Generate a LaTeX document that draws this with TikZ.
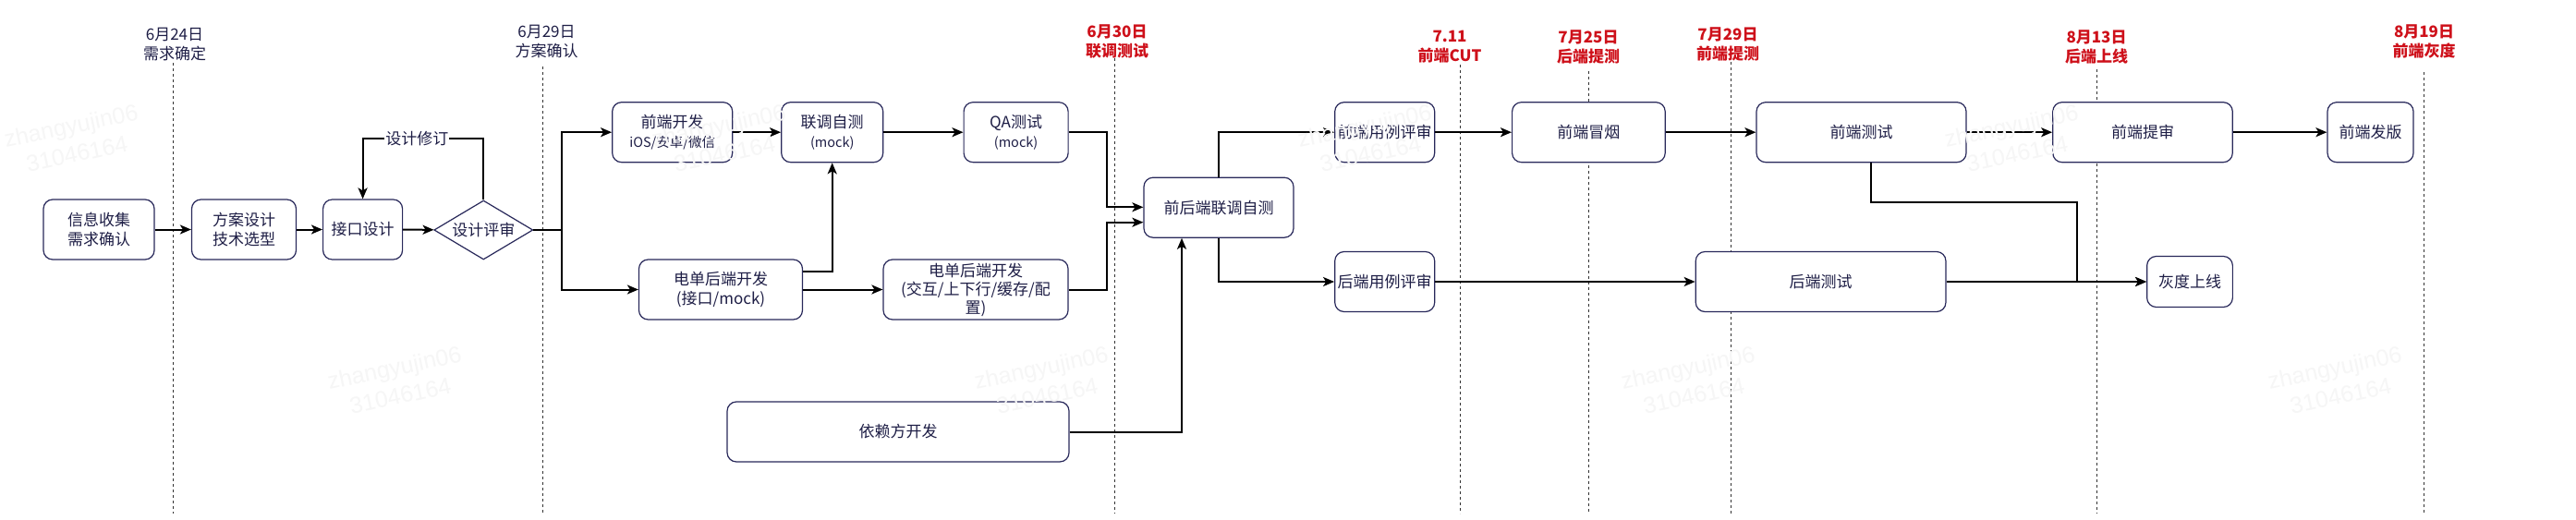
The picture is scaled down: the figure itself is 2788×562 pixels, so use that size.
\documentclass[tikz,border=0pt]{standalone}
\usepackage{fontspec}
\setmainfont{Noto Sans CJK SC}
\newfontfamily\wmfont{Liberation Sans}
\usetikzlibrary{arrows.meta,shapes.geometric,calc}
\definecolor{navy}{RGB}{30,30,70}
\definecolor{boxline}{RGB}{40,40,90}
\definecolor{datered}{RGB}{206,16,26}
\definecolor{wmgray}{RGB}{246,246,246}
\begin{document}
\begin{tikzpicture}[x=1pt,y=-1pt,
  box/.style={draw=boxline, line width=1.2pt, rounded corners=10pt, fill=white, text=navy,
    align=center, inner sep=0pt, minimum height=65pt, font=\fontsize{17}{20.5}\selectfont},
  decision/.style={diamond, draw=boxline, line width=1.2pt, fill=white, text=navy, aspect=1.67,
    inner sep=0pt, minimum width=107pt, minimum height=64pt, font=\fontsize{17}{20.5}\selectfont},
  datelbl/.style={align=center, text=navy, inner sep=0pt, font=\fontsize{17}{21}\selectfont},
  datered/.style={align=center, text=datered, inner sep=0pt, font=\fontsize{17}{21}\selectfont\bfseries},
  timeline/.style={draw=black!80, line width=1pt, dash pattern=on 3pt off 3pt},
  arr/.style={draw=black, line width=2pt, -{Stealth[length=12pt,width=10pt,inset=3pt]}},
  lbl/.style={fill=white, text=navy, inner sep=1pt, font=\fontsize{17}{20}\selectfont},
  wm/.style={rotate=12, text=wmgray, align=center, inner sep=0pt, font=\wmfont\fontsize{25}{31}\selectfont}]
\useasboundingbox (0,0) rectangle (2788,562);
\fill[white] (0,0) rectangle (2788,562);

% date labels
\node[datelbl] (d1) at (189,48) {6月24日\\需求确定};
\node[datelbl] (d2) at (591.5,45) {6月29日\\方案确认};
\node[datered] (d3) at (1209,45) {6月30日\\联调测试};
\node[datered] (d4) at (1569,50.5) {7.11\\前端CUT};
\node[datered] (d5) at (1719,50.5) {7月25日\\后端提测};
\node[datered] (d6) at (1870,48) {7月29日\\前端提测};
\node[datered] (d7) at (2269,50.5) {8月13日\\后端上线};
\node[datered] (d8) at (2623.5,45) {8月19日\\前端灰度};

% timelines
\foreach \n/\x/\t in {1/187.5/68, 2/587/72, 3/1206.5/63, 4/1580/70, 5/1719/77, 6/1873/67, 7/2269/75, 8/2623.5/78}{
  \coordinate (t\n a) at (\x,\t);
  \coordinate (t\n b) at (\x,556);
  \draw[timeline] (t\n a) -- (t\n b);
}

% nodes
\node[box, minimum width=120pt] (info) at (107,248.5) {信息收集\\需求确认};
\node[box, minimum width=113pt] (plan) at (264,248.5) {方案设计\\技术选型};
\node[box, minimum width=86pt] (api) at (392.6,248.5) {接口设计};
\node[decision] (review) at (523.3,249) {设计评审};
\node[box, minimum width=130pt] (fe) at (727.7,143.2) {前端开发\\{\fontsize{14.5}{17}\selectfont iOS/安卓/微信}};
\node[box, minimum width=110pt] (joint) at (900.7,143.2) {联调自测\\{\fontsize{14.5}{17}\selectfont (mock)}};
\node[box, minimum width=113pt] (qa) at (1099.6,143.2) {QA测试\\{\fontsize{14.5}{17}\selectfont (mock)}};
\node[box, minimum width=177pt] (be) at (780,313.5) {电单后端开发\\(接口/mock)};
\node[box, minimum width=200pt, font=\fontsize{17}{20}\selectfont] (be2) at (1056,313.5) {电单后端开发\\(交互/上下行/缓存/配\\置)};
\node[box, minimum width=370pt] (dep) at (972,467.5) {依赖方开发};
\node[box, minimum width=162pt] (fbjoint) at (1319,224.7) {前后端联调自测};
\node[box, minimum width=108pt] (fecase) at (1498.7,143.2) {前端用例评审};
\node[box, minimum width=108pt] (becase) at (1498.7,305) {后端用例评审};
\node[box, minimum width=165.6pt] (smoke) at (1719.4,143.2) {前端冒烟};
\node[box, minimum width=227pt] (fetest) at (2014.5,143.2) {前端测试};
\node[box, minimum width=270.7pt] (betest) at (1970.6,305) {后端测试};
\node[box, minimum width=194.5pt] (audit) at (2319,143.2) {前端提审};
\node[box, minimum width=93pt] (release) at (2565.5,143.2) {前端发版};
\node[box, minimum width=92.7pt, minimum height=55pt] (gray) at (2370,305) {灰度上线};

% connectors
\draw[arr] (info) -- (plan);
\draw[arr] (plan) -- (api);
\draw[arr] (api) -- (review);
\draw[arr] (review.north) -- ++(0,-66) -- node[lbl, pos=0.55]{设计修订} ++(-130.7,0) -- (api.north);
\draw[arr] (review.east) -- ++(31,0) |- (fe.west);
\draw[arr] (review.east) -- ++(31,0) |- (be.west);
\draw[arr] (fe) -- (joint);
\draw[arr] ([yshift=19.5pt]be.east) -| (joint.south);
\draw[arr] (be) -- (be2);
\draw[arr] (joint) -- (qa);
\draw[arr] (qa.east) -- ++(41,0) |- ([yshift=0.4pt]fbjoint.west);
\draw[arr] (be2.east) -- ++(41,0) |- ([yshift=-16pt]fbjoint.west);
\draw[arr] (dep.east) -| ([xshift=-40pt]fbjoint.south);
\draw[arr] (fbjoint.north) |- (fecase.west);
\draw[arr] (fbjoint.south) |- (becase.west);
\draw[arr] (fecase) -- (smoke);
\draw[arr] (smoke) -- (fetest);
\draw[arr] (fetest) -- (audit);
\draw[arr] (audit) -- (release);
\draw[arr] (becase) -- (betest);
\draw[arr] (betest) -- (gray);
\coordinate (merge) at (2247.8,305);
\draw[arr] ([xshift=10.8pt]fetest.south) -- ++(0,43) -| (merge) -- (gray.west);

% watermarks
\foreach \i/\x/\y in {1/80/151, 2/781/151, 3/1480/151, 4/2180/151, 5/430/413, 6/1130/413, 7/1830/413, 8/2530/413}{
  \node[wm] (wm\i) at (\x,\y) {zhangyujin06\\31046164};
}
\end{tikzpicture}
\end{document}
